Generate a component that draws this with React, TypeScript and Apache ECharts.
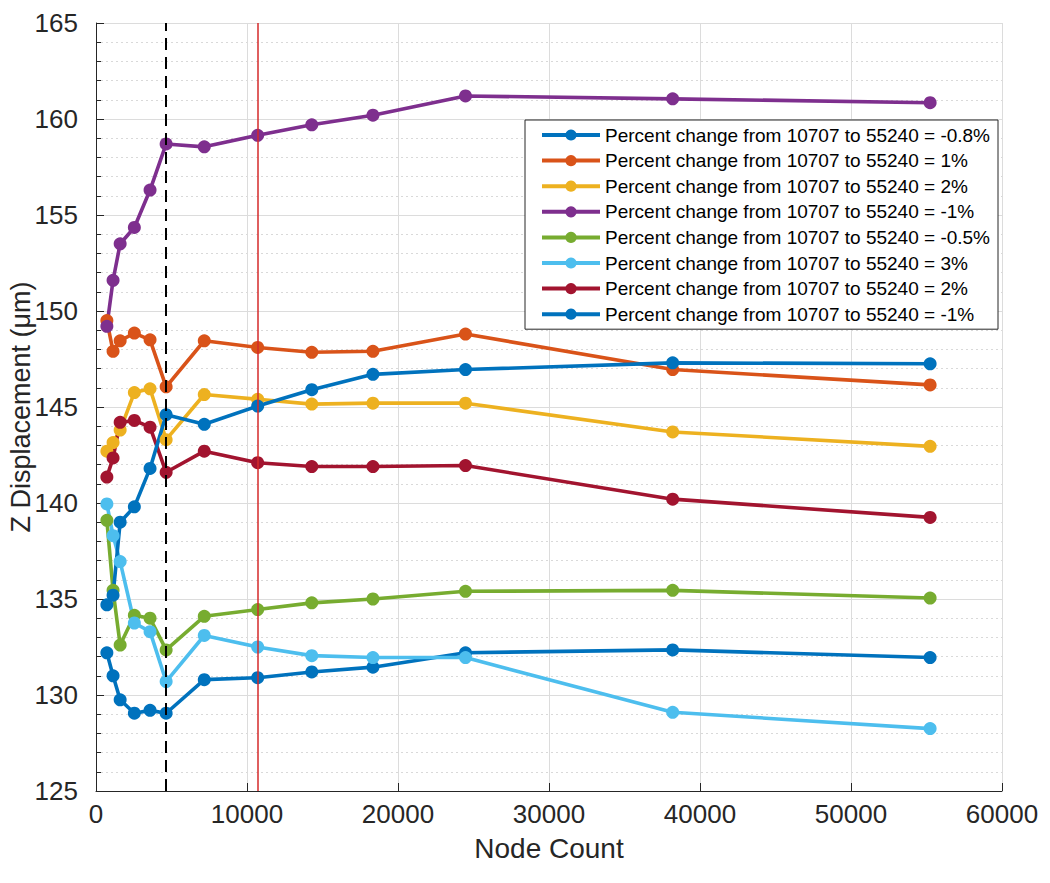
import React, { useEffect, useRef } from "react";
import * as echarts from "echarts";

const nodeCount = [720, 1130, 1600, 2540, 3580, 4645, 7170, 10707, 14290, 18340, 24470, 38190, 55240];

const blueLow = [132.2, 131.0, 129.75, 129.05, 129.2, 129.05, 130.8, 130.9, 131.2, 131.45, 132.2, 132.35, 131.95];
const orange = [149.5, 147.9, 148.45, 148.85, 148.5, 146.05, 148.45, 148.1, 147.85, 147.9, 148.8, 146.95, 146.15];
const yellow = [142.7, 143.15, 143.8, 145.75, 145.95, 143.3, 145.65, 145.4, 145.15, 145.2, 145.2, 143.7, 142.95];
const purple = [149.2, 151.6, 153.5, 154.35, 156.3, 158.7, 158.55, 159.15, 159.7, 160.2, 161.2, 161.05, 160.85];
const green = [139.1, 135.45, 132.6, 134.15, 134.0, 132.35, 134.1, 134.45, 134.8, 135.0, 135.4, 135.45, 135.05];
const cyan = [139.95, 138.3, 136.95, 133.75, 133.3, 130.7, 133.1, 132.5, 132.05, 131.95, 131.95, 129.1, 128.25];
const maroon = [141.35, 142.35, 144.2, 144.3, 143.95, 141.6, 142.7, 142.1, 141.9, 141.9, 141.95, 140.2, 139.25];
const blueHigh = [134.7, 135.2, 139.0, 139.8, 141.8, 144.6, 144.1, 145.05, 145.9, 146.7, 146.95, 147.3, 147.25];

const legendLabels = [
  "Percent change from 10707 to 55240 = -0.8%",
  "Percent change from 10707 to 55240 = 1%",
  "Percent change from 10707 to 55240 = 2%",
  "Percent change from 10707 to 55240 = -1%",
  "Percent change from 10707 to 55240 = -0.5%",
  "Percent change from 10707 to 55240 = 3%",
  "Percent change from 10707 to 55240 = 2%",
  "Percent change from 10707 to 55240 = -1%",
];

const seriesValues = [blueLow, orange, yellow, purple, green, cyan, maroon, blueHigh];
const colors = ["#0072BD", "#D95319", "#EDB120", "#7E2F8E", "#77AC30", "#4DBEEE", "#A2142F", "#0072BD"];

const dashedLineX = 4645;
const redLineX = 10707;

const FONT = "Arial, 'Liberation Sans', Helvetica, sans-serif";

export default function App() {
  const ref = useRef<HTMLDivElement>(null);
  useEffect(() => {
    document.body.style.margin = "0";
    if (!ref.current) return;
    const chart = echarts.init(ref.current, undefined, { renderer: "svg" });
    const names = seriesValues.map((_, i) => "s" + (i + 1));
    const series: any[] = seriesValues.map((vals, i) => ({
      name: names[i],
      type: "line",
      data: vals.map((v, j) => [nodeCount[j], v]),
      symbol: "circle",
      symbolSize: 13,
      showSymbol: true,
      lineStyle: { width: 3.6, color: colors[i] },
      itemStyle: { color: colors[i] },
      z: 2,
    }));
    series.push({
      name: "refLines",
      type: "line",
      data: [],
      z: 3,
      markLine: {
        silent: true,
        symbol: "none",
        label: { show: false },
        data: [
          { xAxis: dashedLineX, lineStyle: { color: "#000", width: 2, type: [12, 7] } },
          { xAxis: redLineX, lineStyle: { color: "#d42a2a", width: 1.5, type: "solid" } },
        ],
      },
    });
    chart.setOption({
      animation: false,
      backgroundColor: "#fff",
      textStyle: { fontFamily: FONT },
      grid: { left: 96, right: 48, top: 23, bottom: 92, containLabel: false, outerBoundsMode: "none" },
      legend: {
        data: names,
        orient: "vertical",
        left: 525,
        top: 120,
        backgroundColor: "#fff",
        borderColor: "#262626",
        borderWidth: 1,
        borderRadius: 0,
        padding: [5, 8, 5, 15],
        itemWidth: 58,
        itemHeight: 14,
        itemGap: 5.6,
        itemStyle: { borderWidth: 0 },
        lineStyle: { width: 4 },
        textStyle: { fontSize: 19, lineHeight: 20, color: "#000", fontFamily: FONT },
        formatter: (name: string) => legendLabels[names.indexOf(name)],
        selectedMode: false,
      },
      xAxis: {
        type: "value",
        min: 0,
        max: 60000,
        interval: 10000,
        name: "Node Count",
        nameLocation: "middle",
        nameGap: 43,
        nameMoveOverlap: false,
        nameTextStyle: { fontSize: 28, color: "#262626", fontFamily: FONT },
        axisLine: { show: true, onZero: false, lineStyle: { color: "#262626", width: 1 } },
        axisTick: { show: true, inside: true, length: 8, lineStyle: { color: "#262626" } },
        axisLabel: { fontSize: 26, color: "#262626", margin: 10, fontFamily: FONT, formatter: (v: number) => String(v) },
        splitLine: { show: true, lineStyle: { color: "#dcdcdc", width: 1 } },
      },
      yAxis: {
        type: "value",
        min: 125,
        max: 165,
        interval: 5,
        name: "Z Displacement (μm)",
        nameLocation: "middle",
        nameGap: 62,
        nameMoveOverlap: false,
        nameTextStyle: { fontSize: 27, color: "#262626", fontFamily: FONT },
        axisLine: { show: true, onZero: false, lineStyle: { color: "#262626", width: 1 } },
        axisTick: { show: true, inside: true, length: 8, lineStyle: { color: "#262626" } },
        minorTick: { show: true, splitNumber: 5, length: 5, lineStyle: { color: "#262626" } },
        minorSplitLine: { show: true, lineStyle: { color: "#d9d9d9", width: 1, type: [2, 3] } },
        axisLabel: { fontSize: 26, color: "#262626", margin: 18, fontFamily: FONT },
        splitLine: { show: true, lineStyle: { color: "#dcdcdc", width: 1 } },
      },
      series,
    });
    return () => chart.dispose();
  }, []);
  return <div ref={ref} style={{ width: 1050, height: 883 }} />;
}
